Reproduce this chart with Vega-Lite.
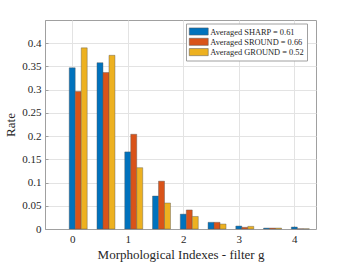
{
  "$schema": "https://vega.github.io/schema/vega-lite/v6.json",
  "autosize": "none",
  "padding": {"left": 45, "top": 20, "right": 33, "bottom": 33},
  "width": 271,
  "height": 209,
  "background": "white",
  "config": {
    "font": "Liberation Serif",
    "view": {"stroke": "#a0a0a0", "strokeWidth": 1},
    "legend": {"labelFont": "Liberation Serif"}
  },
  "data": {
    "values": [
      {"g": 0, "series": "Averaged SHARP = 0.61", "rate": 0.347},
      {"g": 0, "series": "Averaged SROUND = 0.66", "rate": 0.296},
      {"g": 0, "series": "Averaged GROUND = 0.52", "rate": 0.390},
      {"g": 0.5, "series": "Averaged SHARP = 0.61", "rate": 0.358},
      {"g": 0.5, "series": "Averaged SROUND = 0.66", "rate": 0.337},
      {"g": 0.5, "series": "Averaged GROUND = 0.52", "rate": 0.374},
      {"g": 1, "series": "Averaged SHARP = 0.61", "rate": 0.166},
      {"g": 1, "series": "Averaged SROUND = 0.66", "rate": 0.204},
      {"g": 1, "series": "Averaged GROUND = 0.52", "rate": 0.132},
      {"g": 1.5, "series": "Averaged SHARP = 0.61", "rate": 0.071},
      {"g": 1.5, "series": "Averaged SROUND = 0.66", "rate": 0.103},
      {"g": 1.5, "series": "Averaged GROUND = 0.52", "rate": 0.056},
      {"g": 2, "series": "Averaged SHARP = 0.61", "rate": 0.032},
      {"g": 2, "series": "Averaged SROUND = 0.66", "rate": 0.041},
      {"g": 2, "series": "Averaged GROUND = 0.52", "rate": 0.027},
      {"g": 2.5, "series": "Averaged SHARP = 0.61", "rate": 0.0144},
      {"g": 2.5, "series": "Averaged SROUND = 0.66", "rate": 0.0144},
      {"g": 2.5, "series": "Averaged GROUND = 0.52", "rate": 0.0107},
      {"g": 3, "series": "Averaged SHARP = 0.61", "rate": 0.0064},
      {"g": 3, "series": "Averaged SROUND = 0.66", "rate": 0.0036},
      {"g": 3, "series": "Averaged GROUND = 0.52", "rate": 0.0057},
      {"g": 3.5, "series": "Averaged SHARP = 0.61", "rate": 0.002},
      {"g": 3.5, "series": "Averaged SROUND = 0.66", "rate": 0.002},
      {"g": 3.5, "series": "Averaged GROUND = 0.52", "rate": 0.002},
      {"g": 4, "series": "Averaged SHARP = 0.61", "rate": 0.0043},
      {"g": 4, "series": "Averaged SROUND = 0.66", "rate": 0.0005},
      {"g": 4, "series": "Averaged GROUND = 0.52", "rate": 0.0005}
    ]
  },
  "encoding": {
    "x": {
      "field": "g", "type": "quantitative",
      "scale": {"domain": [-0.4, 4.3], "nice": false, "zero": false},
      "axis": {
        "values": [0, 1, 2, 3, 4], "format": "d",
        "title": "Morphological Indexes - filter g",
        "titleFont": "Liberation Serif", "titleFontSize": 13, "titleFontWeight": "normal", "titleColor": "#262626",
        "labelFont": "Liberation Serif", "labelFontSize": 11, "labelColor": "#262626",
        "labelPadding": 7, "tickSize": -3, "tickColor": "#a0a0a0",
        "domainColor": "#a0a0a0", "gridColor": "#e3e3e3", "titlePadding": 4
      }
    },
    "y": {
      "field": "rate", "type": "quantitative", "stack": null,
      "scale": {"domain": [0, 0.45], "nice": false},
      "axis": {
        "values": [0, 0.05, 0.1, 0.15, 0.2, 0.25, 0.3, 0.35, 0.4], "format": "~g",
        "title": "Rate",
        "titleFont": "Liberation Serif", "titleFontSize": 13, "titleFontWeight": "normal", "titleColor": "#262626",
        "labelFont": "Liberation Serif", "labelFontSize": 11, "labelColor": "#262626",
        "labelPadding": 7, "tickSize": -3, "tickColor": "#a0a0a0",
        "domainColor": "#a0a0a0", "gridColor": "#e3e3e3", "titlePadding": 4
      }
    },
    "color": {
      "field": "series", "type": "nominal",
      "sort": ["Averaged SHARP = 0.61", "Averaged SROUND = 0.66", "Averaged GROUND = 0.52"],
      "scale": {"domain": ["Averaged SHARP = 0.61", "Averaged SROUND = 0.66", "Averaged GROUND = 0.52"], "range": ["#0072BD", "#D95319", "#EDB120"]},
      "legend": {
        "title": null, "orient": "none", "legendX": 141, "legendY": 3.5,
        "symbolType": "M-2,-0.75H2V0.75H-2Z", "symbolSize": 90,
        "symbolOffset": 4.75,
        "symbolStrokeColor": "#555", "symbolStrokeWidth": 0.5,
        "labelFont": "Liberation Serif", "labelFontSize": 8.4, "labelColor": "#262626",
        "labelOffset": 6.5,
        "labelExpr": "datum.label + '\u00a0\u00a0\u00a0\u00a0'",
        "rowPadding": 0.3, "padding": 3,
        "strokeColor": "#a0a0a0", "fillColor": "white"
      }
    }
  },
  "layer": [
    {
      "transform": [{"filter": "datum.series === 'Averaged SHARP = 0.61'"}],
      "mark": {"type": "bar", "size": 6, "xOffset": 0, "stroke": "#555", "strokeWidth": 0.5, "strokeOpacity": 0.8}
    },
    {
      "transform": [{"filter": "datum.series === 'Averaged SROUND = 0.66'"}],
      "mark": {"type": "bar", "size": 6, "xOffset": 6, "stroke": "#555", "strokeWidth": 0.5, "strokeOpacity": 0.8}
    },
    {
      "transform": [{"filter": "datum.series === 'Averaged GROUND = 0.52'"}],
      "mark": {"type": "bar", "size": 6, "xOffset": 12, "stroke": "#555", "strokeWidth": 0.5, "strokeOpacity": 0.8}
    }
  ]
}
